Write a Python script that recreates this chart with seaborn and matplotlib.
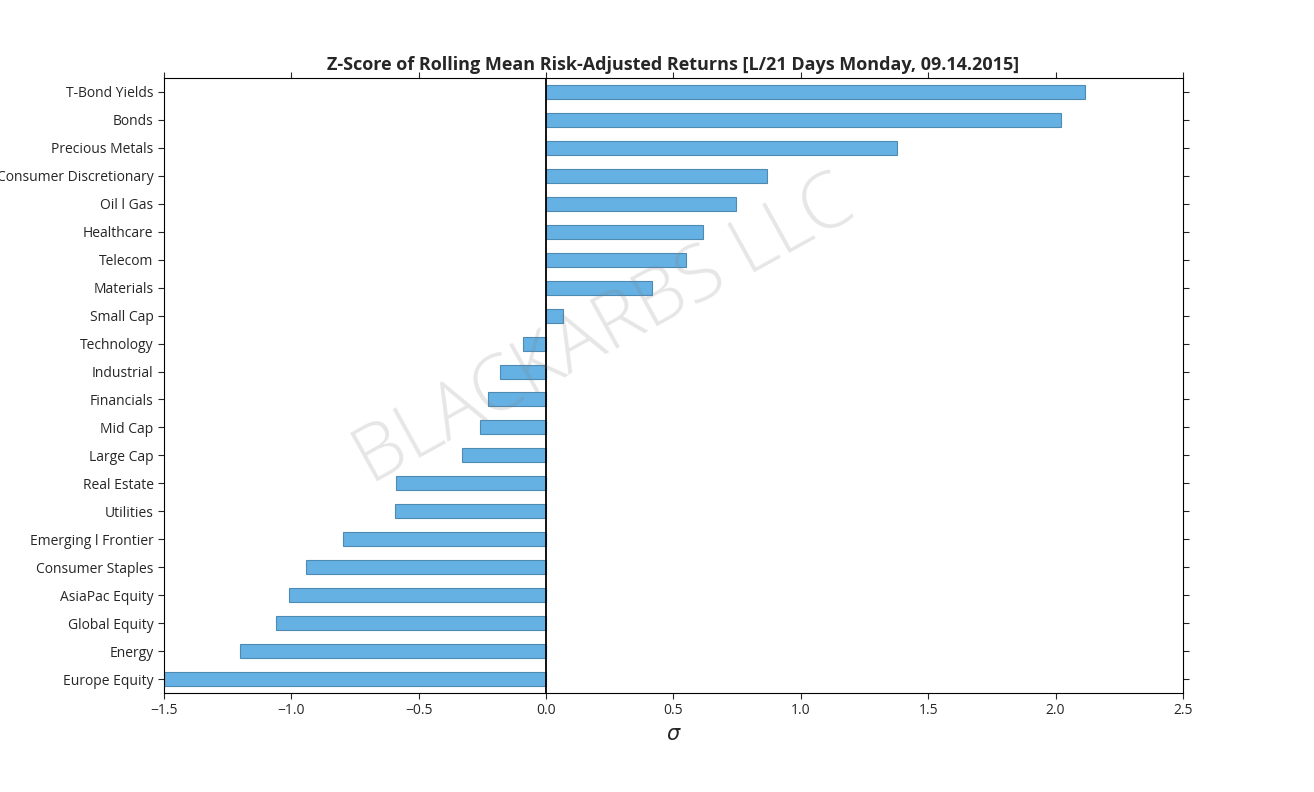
import matplotlib
matplotlib.use("Agg")
import matplotlib.pyplot as plt
import seaborn as sns
import pandas as pd

categories = ["T-Bond Yields", "Bonds", "Precious Metals", "Consumer Discretionary",
              "Oil l Gas", "Healthcare", "Telecom", "Materials", "Small Cap",
              "Technology", "Industrial", "Financials", "Mid Cap", "Large Cap",
              "Real Estate", "Utilities", "Emerging l Frontier", "Consumer Staples",
              "AsiaPac Equity", "Global Equity", "Energy", "Europe Equity"]
zscores = [2.116, 2.02, 1.378, 0.868, 0.746, 0.616, 0.55, 0.416, 0.067,
           -0.09, -0.18, -0.228, -0.26, -0.33, -0.59, -0.593, -0.797, -0.942,
           -1.009, -1.06, -1.201, -1.5]
xticks = [-1.5, -1.0, -0.5, 0.0, 0.5, 1.0, 1.5, 2.0, 2.5]

df = pd.DataFrame({"name": categories, "z": zscores})

sns.set_style("white")
plt.rcParams['font.family'] = ['Open Sans', 'DejaVu Sans']

fig = plt.figure(figsize=(13.14, 7.92), dpi=100)
ax = fig.add_axes([0.1248, 0.125, 0.7755, 0.7765])

sns.barplot(data=df, x="z", y="name", orient="h", color="#5DADE2", width=0.5,
            edgecolor="#4a86b0", linewidth=0.8, saturation=1, alpha=0.95, ax=ax)
ax.axvline(0, color="black", linewidth=1.3)

ax.set_xlim(-1.5, 2.5)
ax.set_xticks(xticks)
ax.set_xticklabels([f"{t:.1f}".replace("-", "\u2212") for t in xticks])
ax.set_ylim(len(categories) - 0.5, -0.5)
ax.set_ylabel("")
ax.set_xlabel(r"$\sigma$", fontsize=15)
ax.tick_params(axis="both", which="both", direction="out", length=4,
               top=True, right=True, bottom=True, left=True, labelsize=10)
for s in ax.spines.values():
    s.set_visible(True)
    s.set_color("black")
    s.set_linewidth(0.8)
ax.set_title("Z-Score of Rolling Mean Risk-Adjusted Returns [L/21 Days Monday, 09.14.2015]",
             fontsize=13, fontweight="bold")

fig.text(0.46, 0.58, "BLACKARBS LLC", fontsize=56, color="gray", alpha=0.2,
         rotation=29, ha="center", va="center", fontweight="light")

fig.savefig("out.png", dpi=100)
